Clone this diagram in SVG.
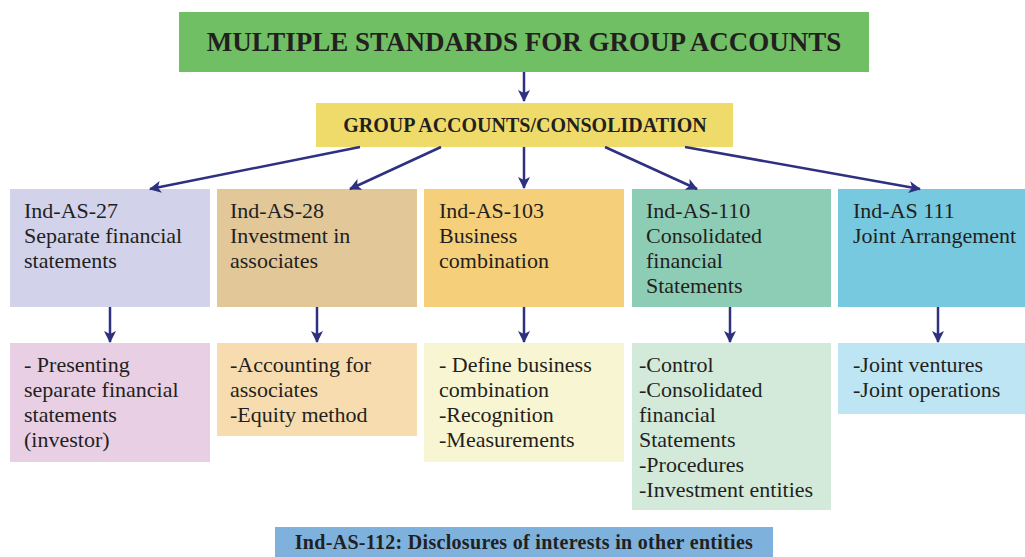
<svg xmlns="http://www.w3.org/2000/svg" width="1025" height="557" viewBox="0 0 1025 557">
<style>
text{font-family:"Liberation Serif","DejaVu Serif",serif;fill:#231f20}
.t{font-size:22px}
.h{font-weight:bold}
.c{stroke:#2e3080;stroke-width:2.5;fill:none}
</style>
<defs>
<marker id="ah" viewBox="0 0 12 12" refX="11" refY="6" markerWidth="12" markerHeight="12" markerUnits="userSpaceOnUse" orient="auto">
<path d="M0,0 L12,6 L0,12 L3,6 Z" fill="#2e3080"/>
</marker>
</defs>
<rect width="1025" height="557" fill="#fff"/>
<g id="title">
<rect x="179" y="12" width="690" height="60" fill="#70bf64"/>
<text x="524" y="51" font-size="27" class="h" text-anchor="middle">MULTIPLE STANDARDS FOR GROUP ACCOUNTS</text>
</g>
<g id="group">
<rect x="316" y="103" width="417" height="44" fill="#efdb6a"/>
<text x="525" y="132" font-size="20" class="h" text-anchor="middle">GROUP ACCOUNTS/CONSOLIDATION</text>
</g>
<g id="as27">
<rect x="10" y="189" width="200" height="118" fill="#d2d2ea"/>
<text class="t" x="24" y="218">Ind-AS-27</text>
<text class="t" x="24" y="243">Separate financial</text>
<text class="t" x="24" y="268">statements</text>
</g>
<g id="as28">
<rect x="217" y="189" width="200" height="118" fill="#e2c799"/>
<text class="t" x="230" y="218">Ind-AS-28</text>
<text class="t" x="230" y="243">Investment in</text>
<text class="t" x="230" y="268">associates</text>
</g>
<g id="as103">
<rect x="424" y="189" width="200" height="118" fill="#f6cf7b"/>
<text class="t" x="439" y="218">Ind-AS-103</text>
<text class="t" x="439" y="243">Business</text>
<text class="t" x="439" y="268">combination</text>
</g>
<g id="as110">
<rect x="632" y="189" width="199" height="118" fill="#8dcdb6"/>
<text class="t" x="646" y="218">Ind-AS-110</text>
<text class="t" x="646" y="243">Consolidated</text>
<text class="t" x="646" y="268">financial</text>
<text class="t" x="646" y="293">Statements</text>
</g>
<g id="as111">
<rect x="838" y="189" width="187" height="118" fill="#77c9e0"/>
<text class="t" x="853" y="218">Ind-AS 111</text>
<text class="t" x="853" y="243">Joint Arrangement</text>
</g>
<g id="d27">
<rect x="10" y="343" width="200" height="119" fill="#e9cfe4"/>
<text class="t" x="24" y="372">- Presenting</text>
<text class="t" x="24" y="397">separate financial</text>
<text class="t" x="24" y="422">statements</text>
<text class="t" x="24" y="447">(investor)</text>
</g>
<g id="d28">
<rect x="217" y="343" width="200" height="93" fill="#f7dcb0"/>
<text class="t" x="230" y="372">-Accounting for</text>
<text class="t" x="230" y="397">associates</text>
<text class="t" x="230" y="422">-Equity method</text>
</g>
<g id="d103">
<rect x="424" y="343" width="200" height="119" fill="#f8f5d3"/>
<text class="t" x="439" y="372">- Define business</text>
<text class="t" x="439" y="397">combination</text>
<text class="t" x="439" y="422">-Recognition</text>
<text class="t" x="439" y="447">-Measurements</text>
</g>
<g id="d110">
<rect x="632" y="343" width="199" height="167" fill="#d3eadb"/>
<text class="t" x="639" y="372">-Control</text>
<text class="t" x="639" y="397">-Consolidated</text>
<text class="t" x="639" y="422">financial</text>
<text class="t" x="639" y="447">Statements</text>
<text class="t" x="639" y="472">-Procedures</text>
<text class="t" x="639" y="497">-Investment entities</text>
</g>
<g id="d111">
<rect x="838" y="343" width="187" height="71" fill="#bde5f3"/>
<text class="t" x="853" y="372">-Joint ventures</text>
<text class="t" x="853" y="397">-Joint operations</text>
</g>
<g id="as112">
<rect x="275" y="527" width="498" height="30" fill="#7eb2dd"/>
<text x="524" y="549" font-size="20" class="h" text-anchor="middle" letter-spacing="0.3">Ind-AS-112: Disclosures of interests in other entities</text>
</g>
<g id="connectors">
<line class="c" x1="524" y1="72" x2="524" y2="101" marker-end="url(#ah)"/>
<line class="c" x1="360" y1="147" x2="150" y2="189" marker-end="url(#ah)"/>
<line class="c" x1="441" y1="147" x2="350" y2="189" marker-end="url(#ah)"/>
<line class="c" x1="524" y1="147" x2="524" y2="188" marker-end="url(#ah)"/>
<line class="c" x1="605" y1="147" x2="697" y2="189" marker-end="url(#ah)"/>
<line class="c" x1="685" y1="147" x2="920" y2="189" marker-end="url(#ah)"/>
<line class="c" x1="110" y1="307" x2="110" y2="342" marker-end="url(#ah)"/>
<line class="c" x1="317" y1="307" x2="317" y2="342" marker-end="url(#ah)"/>
<line class="c" x1="524" y1="307" x2="524" y2="342" marker-end="url(#ah)"/>
<line class="c" x1="730" y1="307" x2="730" y2="342" marker-end="url(#ah)"/>
<line class="c" x1="938" y1="307" x2="938" y2="342" marker-end="url(#ah)"/>
</g>
</svg>
